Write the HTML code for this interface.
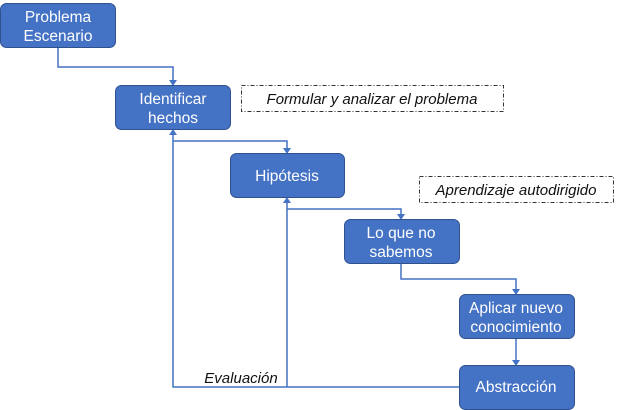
<!DOCTYPE html>
<html><head><meta charset="utf-8"><style>
html,body{margin:0;padding:0;background:#fff;}
svg{display:block;font-family:"Liberation Sans",sans-serif;}
.b{fill:#4472c4;stroke:#2f528f;stroke-width:1;}
.t{fill:#fff;font-size:15.5px;text-anchor:middle;}
.l{stroke:#4472c4;stroke-width:1.5;fill:none;}
.a{fill:#4472c4;}
.d{fill:#fff;stroke:#333;stroke-width:1;stroke-dasharray:4,2,1,2;}
.i{font-style:italic;font-size:15px;fill:#111;text-anchor:middle;}
</style></head><body>
<svg width="639" height="410" viewBox="0 0 639 410">
<polyline class="l" points="58,47 58,67 173,67 173,82"/>
<polygon class="a" points="169,80 177,80 173,86"/>
<polyline class="l" points="173,133 173,387 459,387"/>
<polygon class="a" points="169,135 177,135 173,129"/>
<polyline class="l" points="173,141 287,141 287,150"/>
<polygon class="a" points="283,148 291,148 287,154"/>
<polyline class="l" points="287,201 287,387"/>
<polygon class="a" points="283,203 291,203 287,197"/>
<polyline class="l" points="287,209 401,209 401,216"/>
<polygon class="a" points="397,214 405,214 401,220"/>
<polyline class="l" points="401,263 401,279 516,279 516,291"/>
<polygon class="a" points="512,289 520,289 516,295"/>
<polyline class="l" points="516,338 516,362"/>
<polygon class="a" points="512,360 520,360 516,366"/>
<rect class="b" x="0.5" y="3.5" width="115" height="44" rx="6"/>
<text class="t" x="58" y="22">Problema</text><text class="t" x="58" y="41">Escenario</text>
<rect class="b" x="115.5" y="85.5" width="115" height="44" rx="6"/>
<text class="t" x="173" y="104">Identificar</text><text class="t" x="173" y="123">hechos</text>
<rect class="b" x="230.5" y="153.5" width="114" height="44" rx="6"/>
<text class="t" x="287" y="181">Hipótesis</text>
<rect class="b" x="344.5" y="219.5" width="115" height="44" rx="6"/>
<text class="t" x="401" y="238">Lo que no</text><text class="t" x="401" y="257">sabemos</text>
<rect class="b" x="459.5" y="294.5" width="115" height="44" rx="6"/>
<text class="t" x="516" y="313">Aplicar nuevo</text><text class="t" x="516" y="332">conocimiento</text>
<rect class="b" x="459.5" y="365.5" width="115" height="44" rx="6"/>
<text class="t" x="516" y="392">Abstracción</text>
<rect class="d" x="241.5" y="85.5" width="262" height="26"/>
<text class="i" x="372" y="104">Formular y analizar el problema</text>
<rect class="d" x="419.5" y="176.5" width="194" height="26"/>
<text class="i" x="516" y="195">Aprendizaje autodirigido</text>
<text class="i" x="241" y="383">Evaluación</text>
</svg>
</body></html>
